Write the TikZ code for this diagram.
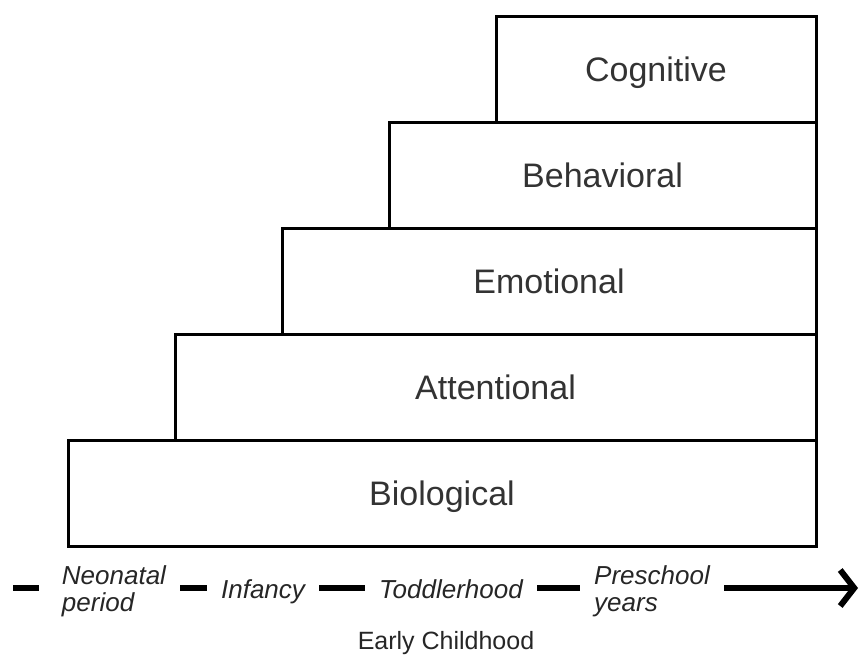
\documentclass[tikz,border=0pt]{standalone}
\usepackage{fontspec}
\setmainfont{Liberation Sans}
\usetikzlibrary{arrows.meta}
\begin{document}
\begin{tikzpicture}[x=0.5pt,y=-0.5pt]
    \tikzstyle{layer}=[draw=black, line width=1.5pt, outer sep=0pt, inner sep=0pt, minimum height=53pt, text height=12.2pt, text depth=0pt, text=black!80, font=\fontsize{17}{20}\selectfont]
    \tikzstyle{stage}=[inner xsep=7pt, inner ysep=0pt, align=left, text=black!85, font=\itshape\fontsize{13}{13.5}\selectfont]
    \tikzstyle{bar}=[line width=3pt]
    \useasboundingbox (0,0) rectangle (860,655);
    % stacked layers
    \node[layer, minimum width=374pt, anchor=south west] (l1) at (68,546) {Biological};
    \node[layer, minimum width=320.5pt, anchor=south east] (l2) at (l1.north east) {Attentional};
    \node[layer, minimum width=267pt, anchor=south east] (l3) at (l2.north east) {Emotional};
    \node[layer, minimum width=213.5pt, anchor=south east] (l4) at (l3.north east) {Behavioral};
    \node[layer, minimum width=160pt, anchor=south east] (l5) at (l4.north east) {Cognitive};
    % time line
    \node[stage] (t1) at (114,591) {Neonatal\\period};
    \node[stage, anchor=base] (t2) at (263,598) {Infancy};
    \node[stage, anchor=base] (t3) at (451,598) {Toddlerhood};
    \node[stage] (t4) at (652,591) {Preschool\\years};
    \node[text=black!85, font=\fontsize{12.5}{14}\selectfont] (ec) at (446,643) {Early Childhood};
    \coordinate (s) at (13,588);
    \coordinate (e) at (858,588);
    \draw[bar, shorten >=4.5pt] (s) -- (t1.west |- s);
    \draw[bar] (t1.east |- s) -- (t2.west |- s);
    \draw[bar] (t2.east |- s) -- (t3.west |- s);
    \draw[bar] (t3.east |- s) -- (t4.west |- s);
    \draw[bar, -{Straight Barb[length=7pt,width=18pt]}] (t4.east |- s) -- (e);
  \end{tikzpicture}
\end{document}
